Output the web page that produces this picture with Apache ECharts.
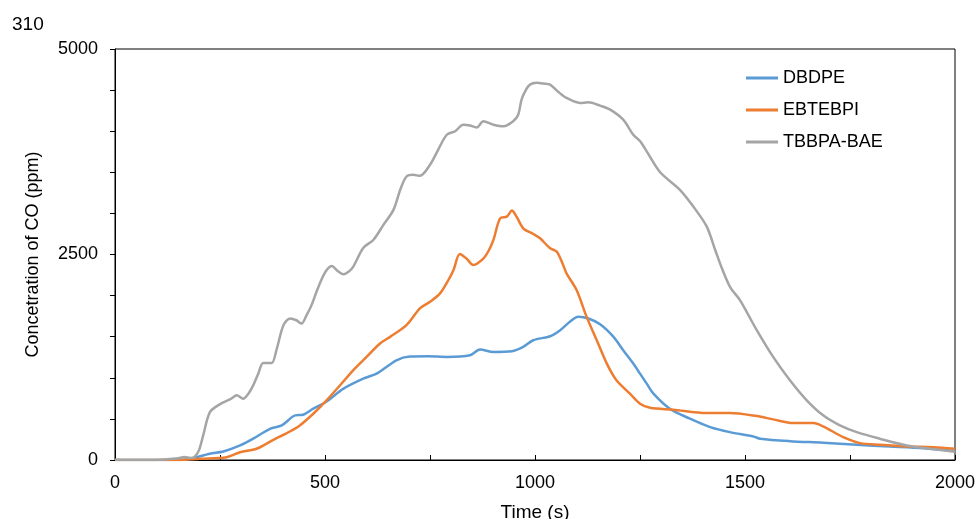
<!DOCTYPE html>
<html>
<head>
<meta charset="utf-8">
<script src="https://cdn.jsdelivr.net/npm/echarts@6/dist/echarts.min.js"></script>
<style>
  html, body { margin: 0; padding: 0; background: #fff; }
  #chart { width: 977px; height: 519px; }
</style>
</head>
<body>
<div id="chart"></div>
<script>
// series names
const seriesNames = ["DBDPE", "EBTEBPI", "TBBPA-BAE"];

// DBDPE
const timeDBDPE = [0, 150, 179, 226, 258, 298, 329, 369, 397, 429, 448, 472, 502, 544, 591, 623, 670, 702, 746, 790, 845, 869, 901, 945, 972, 996, 1036, 1060, 1083, 1103, 1127, 1155, 1187, 1210, 1234, 1250, 1266, 1282, 1321, 1369, 1417, 1464, 1520, 1536, 1607, 1686, 1766, 1845, 1925, 2000];
const coDBDPE = [0, 0, 15, 76, 104, 177, 259, 380, 421, 543, 551, 624, 705, 868, 990, 1051, 1213, 1258, 1262, 1254, 1274, 1344, 1315, 1323, 1376, 1457, 1506, 1579, 1681, 1742, 1722, 1652, 1498, 1335, 1173, 1051, 929, 807, 624, 502, 400, 339, 287, 259, 229, 210, 185, 165, 144, 110];

// EBTEBPI
const timeEBTEBPI = [0, 150, 202, 266, 298, 337, 377, 409, 440, 472, 502, 536, 567, 599, 631, 655, 694, 726, 750, 774, 795, 806, 821, 837, 853, 877, 890, 901, 917, 933, 945, 956, 972, 996, 1012, 1036, 1052, 1067, 1075, 1099, 1123, 1147, 1171, 1194, 1226, 1250, 1274, 1329, 1409, 1464, 1528, 1567, 1615, 1663, 1686, 1734, 1774, 1821, 1885, 1948, 2000];
const coEBTEBPI = [0, 0, 15, 34, 95, 137, 246, 327, 421, 563, 717, 909, 1091, 1254, 1417, 1498, 1640, 1844, 1924, 2027, 2200, 2311, 2506, 2450, 2372, 2450, 2550, 2677, 2941, 2961, 3034, 2961, 2819, 2750, 2697, 2575, 2534, 2372, 2271, 2067, 1741, 1457, 1173, 970, 807, 685, 636, 612, 571, 571, 534, 494, 449, 449, 409, 278, 205, 185, 165, 156, 137];

// TBBPA-BAE
const timeTBBPA = [0, 100, 150, 165, 180, 190, 200, 210, 226, 250, 275, 290, 305, 318, 329, 341, 353, 373, 385, 401, 417, 432, 444, 456, 468, 480, 492, 504, 516, 530, 544, 556, 567, 591, 615, 639, 663, 680, 694, 710, 726, 750, 770, 790, 810, 829, 845, 861, 877, 901, 925, 948, 960, 968, 978, 988, 1004, 1020, 1036, 1055, 1075, 1107, 1127, 1155, 1179, 1210, 1234, 1250, 1266, 1298, 1345, 1377, 1409, 1429, 1445, 1465, 1488, 1528, 1567, 1607, 1647, 1686, 1726, 1766, 1821, 1885, 1940, 2000];
const coTBBPA = [0, 0, 20, 35, 25, 40, 120, 300, 583, 680, 740, 787, 746, 810, 908, 1050, 1180, 1180, 1350, 1640, 1722, 1700, 1660, 1760, 1884, 2050, 2200, 2311, 2360, 2300, 2260, 2290, 2350, 2580, 2677, 2860, 3043, 3300, 3449, 3470, 3457, 3591, 3780, 3957, 4000, 4079, 4070, 4046, 4120, 4079, 4059, 4120, 4200, 4384, 4500, 4567, 4588, 4580, 4567, 4480, 4405, 4344, 4351, 4311, 4262, 4140, 3957, 3880, 3754, 3500, 3287, 3083, 2839, 2555, 2332, 2100, 1945, 1579, 1254, 970, 726, 543, 421, 339, 259, 177, 137, 100];

const colors = ["#5B9BD5", "#ED7D31", "#A5A5A5"];
const font = "'Liberation Sans', Arial, sans-serif";

function zip(xs, ys) {
  return xs.map((x, i) => [x, ys[i]]);
}

let myChart = echarts.init(document.getElementById("chart"));
myChart.setOption({
  animation: false,
  title: {
    text: "310",
    left: 7,
    top: 10,
    textStyle: { fontFamily: font, fontSize: 19, fontWeight: "normal", color: "#000" }
  },
  color: colors,
  legend: {
    orient: "vertical",
    left: 746,
    top: 69,
    padding: 0,
    icon: "rect",
    itemWidth: 32,
    itemHeight: 3,
    itemGap: 14,
    textStyle: { fontFamily: font, fontSize: 18, color: "#000" },
    data: seriesNames
  },
  grid: {
    left: 115,
    right: 22,
    top: 49,
    bottom: 59,
    outerBoundsMode: "none",
    show: true,
    borderColor: "#000",
    borderWidth: 1
  },
  xAxis: {
    type: "value",
    min: 0,
    max: 2000,
    interval: 500,
    name: "Time (s)",
    nameLocation: "middle",
    nameGap: 43,
    nameTextStyle: { fontFamily: font, fontSize: 19, color: "#000" },
    axisLine: { lineStyle: { color: "#000", width: 1 } },
    axisTick: { inside: true, length: 5, lineStyle: { color: "#000" } },
    minorTick: { show: true, splitNumber: 2, length: 5, lineStyle: { color: "#000" } },
    splitLine: { show: false },
    axisLabel: { fontFamily: font, fontSize: 18, color: "#000", margin: 14, formatter: v => String(v) }
  },
  yAxis: {
    type: "value",
    min: 0,
    max: 5000,
    interval: 2500,
    name: "Concetration of CO (ppm)",
    nameLocation: "middle",
    nameGap: 73,
    nameTextStyle: { fontFamily: font, fontSize: 18, color: "#000" },
    axisLine: { show: true, lineStyle: { color: "#000", width: 1 } },
    axisTick: { show: true, inside: false, length: 5, lineStyle: { color: "#000" } },
    minorTick: { show: true, splitNumber: 5, length: 5, lineStyle: { color: "#000" } },
    splitLine: { show: false },
    axisLabel: { fontFamily: font, fontSize: 18, color: "#000", margin: 17, formatter: v => String(v) }
  },
  series: [
    {
      name: "DBDPE",
      type: "line",
      symbol: "none",
      smooth: 0.3,
      lineStyle: { width: 2.5, color: colors[0] },
      data: zip(timeDBDPE, coDBDPE)
    },
    {
      name: "EBTEBPI",
      type: "line",
      symbol: "none",
      smooth: 0.3,
      lineStyle: { width: 2.5, color: colors[1] },
      data: zip(timeEBTEBPI, coEBTEBPI)
    },
    {
      name: "TBBPA-BAE",
      type: "line",
      symbol: "none",
      smooth: 0.3,
      lineStyle: { width: 2.5, color: colors[2] },
      data: zip(timeTBBPA, coTBBPA)
    }
  ]
});
</script>
</body>
</html>
